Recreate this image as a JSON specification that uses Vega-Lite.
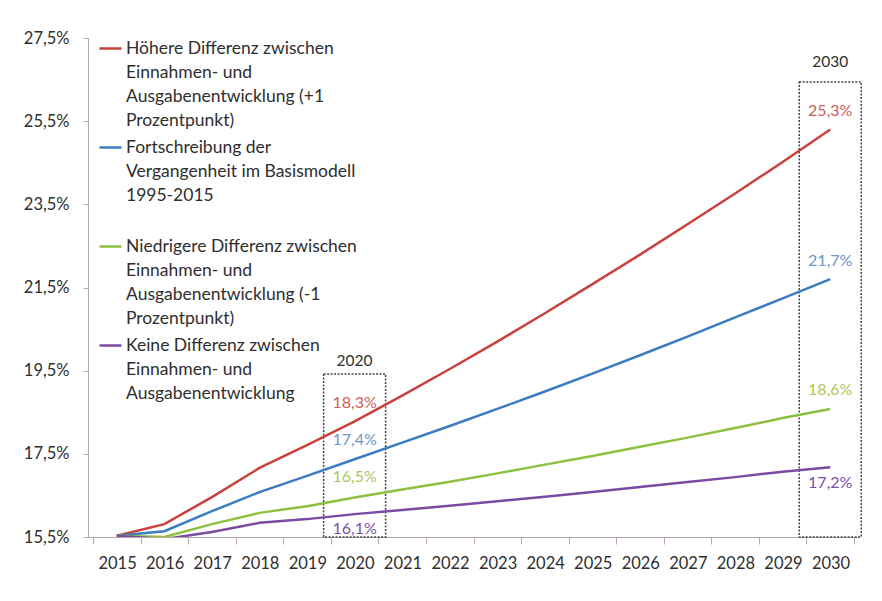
{
  "$schema": "https://vega.github.io/schema/vega-lite/v6.json",
  "width": 771,
  "height": 499,
  "autosize": {"type": "none"},
  "padding": {"left": 88, "top": 38, "right": 23, "bottom": 64},
  "background": "white",
  "config": {
    "view": {"stroke": null},
    "font": "Lato",
    "style": {"guide-label": {"lineHeight": 24}}
  },
  "datasets": {
    "linien": [
      {"Jahr": 2015, "S": "hoch", "Wert": 15.53},
      {"Jahr": 2016, "S": "hoch", "Wert": 15.81},
      {"Jahr": 2017, "S": "hoch", "Wert": 16.46},
      {"Jahr": 2018, "S": "hoch", "Wert": 17.16},
      {"Jahr": 2019, "S": "hoch", "Wert": 17.71},
      {"Jahr": 2020, "S": "hoch", "Wert": 18.28},
      {"Jahr": 2021, "S": "hoch", "Wert": 18.9},
      {"Jahr": 2022, "S": "hoch", "Wert": 19.54},
      {"Jahr": 2023, "S": "hoch", "Wert": 20.2},
      {"Jahr": 2024, "S": "hoch", "Wert": 20.88},
      {"Jahr": 2025, "S": "hoch", "Wert": 21.58},
      {"Jahr": 2026, "S": "hoch", "Wert": 22.29},
      {"Jahr": 2027, "S": "hoch", "Wert": 23.02},
      {"Jahr": 2028, "S": "hoch", "Wert": 23.76},
      {"Jahr": 2029, "S": "hoch", "Wert": 24.52},
      {"Jahr": 2030, "S": "hoch", "Wert": 25.3},
      {"Jahr": 2015, "S": "basis", "Wert": 15.53},
      {"Jahr": 2016, "S": "basis", "Wert": 15.64},
      {"Jahr": 2017, "S": "basis", "Wert": 16.12},
      {"Jahr": 2018, "S": "basis", "Wert": 16.58},
      {"Jahr": 2019, "S": "basis", "Wert": 16.97},
      {"Jahr": 2020, "S": "basis", "Wert": 17.37},
      {"Jahr": 2021, "S": "basis", "Wert": 17.77},
      {"Jahr": 2022, "S": "basis", "Wert": 18.17},
      {"Jahr": 2023, "S": "basis", "Wert": 18.58},
      {"Jahr": 2024, "S": "basis", "Wert": 19.0},
      {"Jahr": 2025, "S": "basis", "Wert": 19.43},
      {"Jahr": 2026, "S": "basis", "Wert": 19.87},
      {"Jahr": 2027, "S": "basis", "Wert": 20.32},
      {"Jahr": 2028, "S": "basis", "Wert": 20.78},
      {"Jahr": 2029, "S": "basis", "Wert": 21.24},
      {"Jahr": 2030, "S": "basis", "Wert": 21.7},
      {"Jahr": 2015, "S": "niedrig", "Wert": 15.53},
      {"Jahr": 2016, "S": "niedrig", "Wert": 15.5},
      {"Jahr": 2017, "S": "niedrig", "Wert": 15.81},
      {"Jahr": 2018, "S": "niedrig", "Wert": 16.08},
      {"Jahr": 2019, "S": "niedrig", "Wert": 16.24},
      {"Jahr": 2020, "S": "niedrig", "Wert": 16.45},
      {"Jahr": 2021, "S": "niedrig", "Wert": 16.64},
      {"Jahr": 2022, "S": "niedrig", "Wert": 16.83},
      {"Jahr": 2023, "S": "niedrig", "Wert": 17.03},
      {"Jahr": 2024, "S": "niedrig", "Wert": 17.24},
      {"Jahr": 2025, "S": "niedrig", "Wert": 17.45},
      {"Jahr": 2026, "S": "niedrig", "Wert": 17.67},
      {"Jahr": 2027, "S": "niedrig", "Wert": 17.89},
      {"Jahr": 2028, "S": "niedrig", "Wert": 18.12},
      {"Jahr": 2029, "S": "niedrig", "Wert": 18.36},
      {"Jahr": 2030, "S": "niedrig", "Wert": 18.58},
      {"Jahr": 2015, "S": "keine", "Wert": 15.53},
      {"Jahr": 2016, "S": "keine", "Wert": 15.45},
      {"Jahr": 2017, "S": "keine", "Wert": 15.62},
      {"Jahr": 2018, "S": "keine", "Wert": 15.84},
      {"Jahr": 2019, "S": "keine", "Wert": 15.93},
      {"Jahr": 2020, "S": "keine", "Wert": 16.05},
      {"Jahr": 2021, "S": "keine", "Wert": 16.15},
      {"Jahr": 2022, "S": "keine", "Wert": 16.25},
      {"Jahr": 2023, "S": "keine", "Wert": 16.36},
      {"Jahr": 2024, "S": "keine", "Wert": 16.47},
      {"Jahr": 2025, "S": "keine", "Wert": 16.58},
      {"Jahr": 2026, "S": "keine", "Wert": 16.7},
      {"Jahr": 2027, "S": "keine", "Wert": 16.82},
      {"Jahr": 2028, "S": "keine", "Wert": 16.94},
      {"Jahr": 2029, "S": "keine", "Wert": 17.07},
      {"Jahr": 2030, "S": "keine", "Wert": 17.18}
    ],
    "beschriftung": [
      {"Jahr": 2020, "S": "hoch", "Wert": 18.3, "Text": "18,3%"},
      {"Jahr": 2020, "S": "basis", "Wert": 17.4, "Text": "17,4%"},
      {"Jahr": 2020, "S": "niedrig", "Wert": 16.5, "Text": "16,5%"},
      {"Jahr": 2020, "S": "keine", "Wert": 16.1, "Text": "16,1%"},
      {"Jahr": 2030, "S": "hoch", "Wert": 25.3, "Text": "25,3%"},
      {"Jahr": 2030, "S": "basis", "Wert": 21.7, "Text": "21,7%"},
      {"Jahr": 2030, "S": "niedrig", "Wert": 18.6, "Text": "18,6%"},
      {"Jahr": 2030, "S": "keine", "Wert": 17.2, "Text": "17,2%"}
    ],
    "boxen": [
      {"Jahr": 2020, "Unten": 15.5, "Oben": 19.42, "Titel": "2020"},
      {"Jahr": 2030, "Unten": 15.5, "Oben": 26.44, "Titel": "2030"}
    ]
  },
  "encoding": {
    "x": {
      "field": "Jahr",
      "type": "quantitative",
      "scale": {"domain": [2014.5, 2030.5], "nice": false, "zero": false},
      "axis": {
        "title": null,
        "values": [2014.5, 2015.5, 2016.5, 2017.5, 2018.5, 2019.5, 2020.5, 2021.5, 2022.5, 2023.5, 2024.5, 2025.5, 2026.5, 2027.5, 2028.5, 2029.5, 2030.5],
        "labelExpr": "datum.value < 2030 ? toString(datum.value + 0.5) : ''",
        "labelOffset": 24.1,
        "labelFlush": false,
        "labelOverlap": false,
        "labelBound": false,
        "grid": false,
        "tickSize": 7,
        "tickColor": "#b5aaa3",
        "domainColor": "#b5aaa3",
        "labelFont": "Lato",
        "labelFontSize": 16.5,
        "labelColor": "#2e2e2e",
        "labelPadding": 11
      }
    }
  },
  "layer": [
    {
      "data": {"name": "boxen"},
      "mark": {"type": "bar", "orient": "vertical", "width": 62, "fill": "transparent", "stroke": "#444444", "strokeDash": [2, 1.5], "strokeWidth": 1.5, "clip": false},
      "encoding": {
        "y": {"field": "Unten", "type": "quantitative", "title": null, "scale": {"domain": [15.5, 27.5], "nice": false, "zero": false}},
        "y2": {"field": "Oben"}
      }
    },
    {
      "data": {"name": "boxen"},
      "transform": [{"filter": "datum.Jahr == 2020"}],
      "mark": {"type": "text", "dy": -13, "baseline": "middle", "fontSize": 15.5, "color": "#2e2e2e", "font": "Lato"},
      "encoding": {
        "y": {"field": "Oben", "type": "quantitative", "title": null},
        "text": {"field": "Titel"}
      }
    },
    {
      "data": {"name": "boxen"},
      "transform": [{"filter": "datum.Jahr == 2030"}],
      "mark": {"type": "text", "dy": -20, "baseline": "middle", "fontSize": 15.5, "color": "#2e2e2e", "font": "Lato"},
      "encoding": {
        "y": {"field": "Oben", "type": "quantitative", "title": null},
        "text": {"field": "Titel"}
      }
    },
    {
      "data": {"name": "linien"},
      "mark": {"type": "line", "strokeWidth": 2.5, "clip": true},
      "encoding": {
        "y": {
          "field": "Wert",
          "type": "quantitative",
          "title": null,
          "scale": {"domain": [15.5, 27.5], "nice": false, "zero": false},
          "axis": {
            "values": [15.5, 17.5, 19.5, 21.5, 23.5, 25.5, 27.5],
            "labelExpr": "replace(format(datum.value, '.1f'), '.', ',') + '%'",
            "grid": false,
            "tickSize": 5,
            "tickColor": "#b5aaa3",
            "domainColor": "#b5aaa3",
            "labelFont": "Lato",
            "labelFontSize": 16.5,
            "labelColor": "#2e2e2e",
            "labelPadding": 14
          }
        },
        "color": {
          "field": "S",
          "type": "nominal",
          "scale": {"domain": ["hoch", "basis", "niedrig", "keine"], "range": ["#c9413c", "#3b7bc0", "#8dc03f", "#7b4aa3"]},
          "legend": {
            "orient": "none",
            "legendX": 10,
            "legendY": -2,
            "title": null,
            "padding": 0,
            "symbolType": "stroke",
            "symbolSize": 484,
            "symbolStrokeWidth": 2.5,
            "labelFont": "Lato",
            "labelFontSize": 17.5,
            "labelColor": "#2e2e2e",
            "labelLimit": 600,
            "labelBaseline": "middle",
            "labelOffset": 3,
            "rowPadding": 6,
            "labelExpr": "datum.value == 'hoch' ? ['Höhere Differenz zwischen', 'Einnahmen- und', 'Ausgabenentwicklung (+1', 'Prozentpunkt)'] : datum.value == 'basis' ? ['Fortschreibung der', 'Vergangenheit im Basismodell', '1995-2015', ''] : datum.value == 'niedrig' ? ['Niedrigere Differenz zwischen', 'Einnahmen- und', 'Ausgabenentwicklung (-1', 'Prozentpunkt)'] : ['Keine Differenz zwischen', 'Einnahmen- und', 'Ausgabenentwicklung', '']"
          }
        }
      }
    },
    {
      "data": {"name": "beschriftung"},
      "transform": [{"filter": "datum.S != 'keine'"}],
      "mark": {"type": "text", "dy": -18, "baseline": "middle", "fontSize": 16, "font": "Lato"},
      "encoding": {
        "y": {"field": "Wert", "type": "quantitative", "title": null},
        "text": {"field": "Text"},
        "color": {
          "field": "S",
          "type": "nominal",
          "legend": null,
          "scale": {"domain": ["hoch", "basis", "niedrig", "keine"], "range": ["#cf5c57", "#6e94c9", "#b2c55c", "#7a4fa5"]}
        }
      }
    },
    {
      "data": {"name": "beschriftung"},
      "transform": [{"filter": "datum.S == 'keine'"}],
      "mark": {"type": "text", "dy": 17, "baseline": "middle", "fontSize": 16, "font": "Lato"},
      "encoding": {
        "y": {"field": "Wert", "type": "quantitative", "title": null},
        "text": {"field": "Text"},
        "color": {
          "field": "S",
          "type": "nominal",
          "legend": null,
          "scale": {"domain": ["hoch", "basis", "niedrig", "keine"], "range": ["#cf5c57", "#6e94c9", "#b2c55c", "#7a4fa5"]}
        }
      }
    }
  ],
  "resolve": {"scale": {"color": "independent"}}
}
